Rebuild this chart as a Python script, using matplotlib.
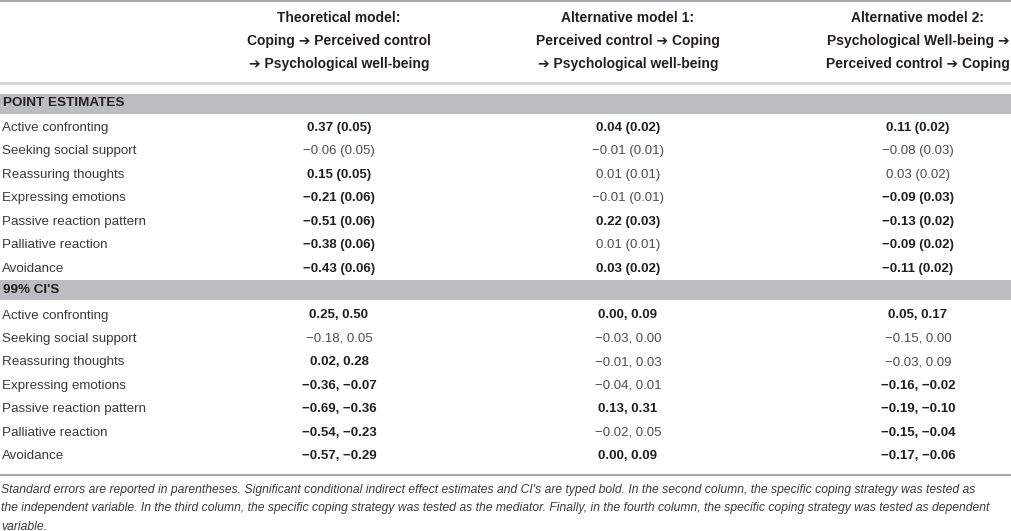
import matplotlib
matplotlib.use("Agg")
import matplotlib.pyplot as plt
from matplotlib import font_manager

plt.rcParams['font.family'] = ['Liberation Sans', 'DejaVu Sans']

# ---- table content ----
headers = [
    ["Theoretical model:", "Coping \u2794 Perceived control", "\u2794 Psychological well-being"],
    ["Alternative model 1:", "Perceived control \u2794 Coping", "\u2794 Psychological well-being"],
    ["Alternative model 2:", "Psychological Well-being \u2794", "Perceived control \u2794 Coping"],
]
sections = ["POINT ESTIMATES", "99% CI'S"]
row_labels = ["Active confronting", "Seeking social support", "Reassuring thoughts",
              "Expressing emotions", "Passive reaction pattern", "Palliative reaction",
              "Avoidance"]

pe_theo = ["0.37 (0.05)", "\u22120.06 (0.05)", "0.15 (0.05)", "\u22120.21 (0.06)",
           "\u22120.51 (0.06)", "\u22120.38 (0.06)", "\u22120.43 (0.06)"]
pe_theo_bold = [1, 0, 1, 1, 1, 1, 1]
pe_alt1 = ["0.04 (0.02)", "\u22120.01 (0.01)", "0.01 (0.01)", "\u22120.01 (0.01)",
           "0.22 (0.03)", "0.01 (0.01)", "0.03 (0.02)"]
pe_alt1_bold = [1, 0, 0, 0, 1, 0, 1]
pe_alt2 = ["0.11 (0.02)", "\u22120.08 (0.03)", "0.03 (0.02)", "\u22120.09 (0.03)",
           "\u22120.13 (0.02)", "\u22120.09 (0.02)", "\u22120.11 (0.02)"]
pe_alt2_bold = [1, 0, 0, 1, 1, 1, 1]

ci_theo = ["0.25, 0.50", "\u22120.18, 0.05", "0.02, 0.28", "\u22120.36, \u22120.07",
           "\u22120.69, \u22120.36", "\u22120.54, \u22120.23", "\u22120.57, \u22120.29"]
ci_theo_bold = [1, 0, 1, 1, 1, 1, 1]
ci_alt1 = ["0.00, 0.09", "\u22120.03, 0.00", "\u22120.01, 0.03", "\u22120.04, 0.01",
           "0.13, 0.31", "\u22120.02, 0.05", "0.00, 0.09"]
ci_alt1_bold = [1, 0, 0, 0, 1, 0, 1]
ci_alt2 = ["0.05, 0.17", "\u22120.15, 0.00", "\u22120.03, 0.09", "\u22120.16, \u22120.02",
           "\u22120.19, \u22120.10", "\u22120.15, \u22120.04", "\u22120.17, \u22120.06"]
ci_alt2_bold = [1, 0, 0, 1, 1, 1, 1]

footnote = [
    "Standard errors are reported in parentheses. Significant conditional indirect effect estimates and CI's are typed bold. In the second column, the specific coping strategy was tested as",
    "the independent variable. In the third column, the specific coping strategy was tested as the mediator. Finally, in the fourth column, the specific coping strategy was tested as dependent",
    "variable.",
]

# ---- layout (pixel units) ----
W, H = 1012, 531
col_x = [339, 628, 918]
row_step = 23.45
ink = "#231f20"
band = "#bcbdc0"

fig = plt.figure(figsize=(W / 100, H / 100), dpi=100)
ax = fig.add_axes([0, 0, 1, 1])
ax.set_xlim(0, W)
ax.set_ylim(H, 0)
ax.axis("off")

# rules
ax.axhline(1, color="#a7a9ac", lw=1.5)
ax.axhline(83, color="#d1d3d4", lw=2.0)
ax.axhline(474.5, color="#a7a9ac", lw=1.5)

# header
for ci, lines in enumerate(headers):
    for li, txt in enumerate(lines):
        ax.text(col_x[ci], 17.5 + li * 23.2, txt, ha="center", va="center",
                fontsize=10, fontweight="bold", color=ink)

blocks = [
    (sections[0], 103.5, 128, [(pe_theo, pe_theo_bold), (pe_alt1, pe_alt1_bold), (pe_alt2, pe_alt2_bold)]),
    (sections[1], 290, 315.5, [(ci_theo, ci_theo_bold), (ci_alt1, ci_alt1_bold), (ci_alt2, ci_alt2_bold)]),
]
for title, ty, y0, cols in blocks:
    ax.add_patch(plt.Rectangle((0, ty - 10), W, 20, color=band, lw=0))
    ax.text(3, ty, title, ha="left", va="center", fontsize=9.7,
            fontweight="bold", color=ink)
    for ri, lab in enumerate(row_labels):
        y = y0 + ri * row_step
        ax.text(2, y, lab, ha="left", va="center", fontsize=9.6, color="#3a3a3a")
        for ci, (vals, bold) in enumerate(cols):
            ax.text(col_x[ci], y, vals[ri], ha="center", va="center", fontsize=9.5,
                    fontweight="bold" if bold[ri] else "normal",
                    color=ink if bold[ri] else "#4d4d4f")

# footnote, condensed italic if available
names = {f.name for f in font_manager.fontManager.ttflist}
if "Liberation Sans Narrow" in names:
    fn_family, fn_size = ["Liberation Sans Narrow", "DejaVu Sans"], 9.3
else:
    fn_family, fn_size = ["Liberation Sans", "DejaVu Sans"], 8.75
for li, txt in enumerate(footnote):
    ax.text(1, 490 + li * 18.5, txt, ha="left", va="center", fontsize=fn_size,
            style="italic", family=fn_family, color="#3a3a3a")

fig.savefig("out.png", dpi=100)
